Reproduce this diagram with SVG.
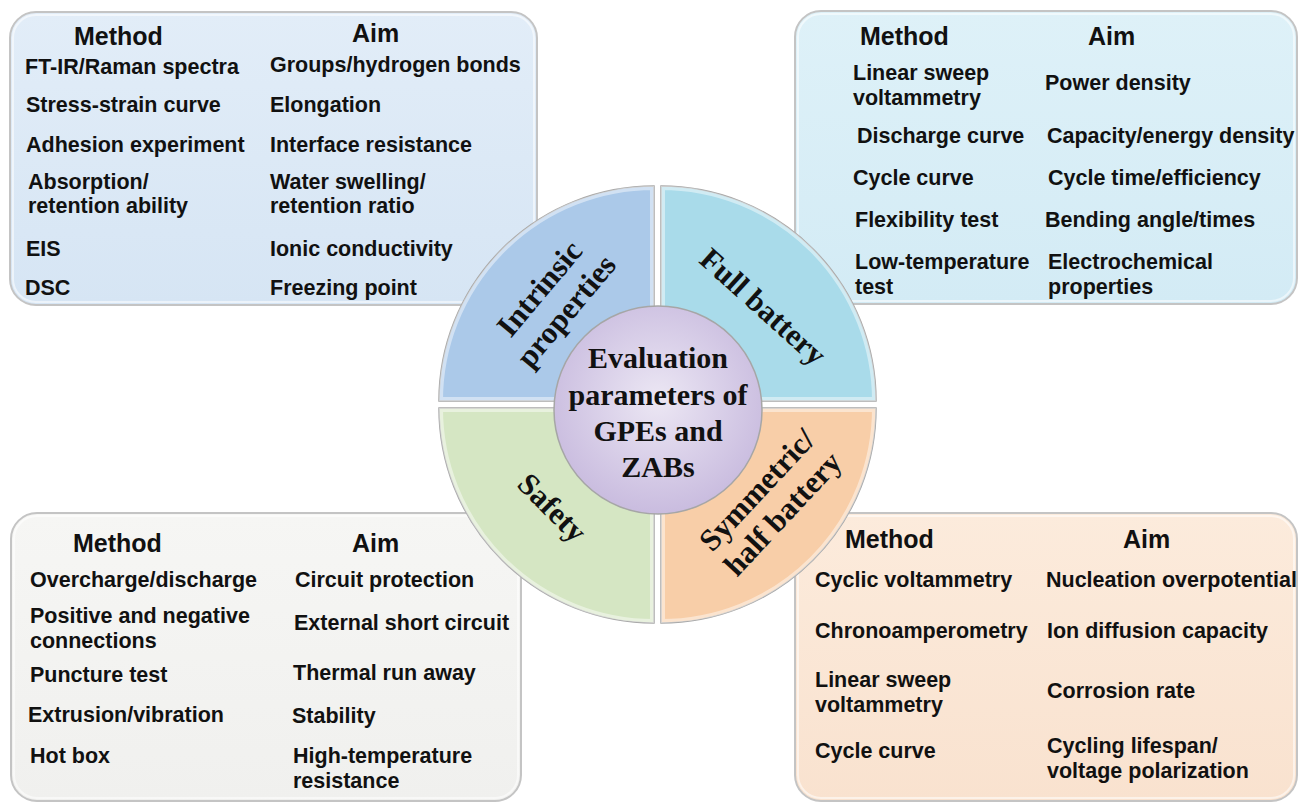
<svg xmlns="http://www.w3.org/2000/svg" width="1298" height="804" viewBox="0 0 1298 804">
<defs>
<linearGradient id="gBlue" x1="0" y1="0" x2="0" y2="1"><stop offset="0" stop-color="#e2edf8"/><stop offset="1" stop-color="#d6e5f4"/></linearGradient>
<linearGradient id="gCyan" x1="0" y1="0" x2="0" y2="1"><stop offset="0" stop-color="#def1f8"/><stop offset="1" stop-color="#d3ebf5"/></linearGradient>
<linearGradient id="gGray" x1="0" y1="0" x2="0" y2="1"><stop offset="0" stop-color="#f6f6f4"/><stop offset="1" stop-color="#f0f0ee"/></linearGradient>
<linearGradient id="gPeach" x1="0" y1="0" x2="0" y2="1"><stop offset="0" stop-color="#fcebdc"/><stop offset="1" stop-color="#f9e2cf"/></linearGradient>
<radialGradient id="gCenter" cx="0.5" cy="0.45" r="0.6"><stop offset="0" stop-color="#ece7f4"/><stop offset="1" stop-color="#c6b8dd"/></radialGradient>
<clipPath id="cUL"><path d="M654,401 L439,401 A215,215 0 0 1 654,186 Z"/></clipPath>
<clipPath id="cUR"><path d="M661,401 L661,186 A215,215 0 0 1 876,401 Z"/></clipPath>
<clipPath id="cLL"><path d="M654,408 L654,623 A215,215 0 0 1 439,408 Z"/></clipPath>
<clipPath id="cLR"><path d="M661,408 L876,408 A215,215 0 0 1 661,623 Z"/></clipPath>
</defs>
<style>
.box{stroke:#c4c4c4;stroke-width:2}
.hl{fill:none;stroke:#ffffff;stroke-opacity:0.55;stroke-width:2}
.t{font-family:"Liberation Sans",Arial,sans-serif;font-weight:bold;font-size:21.5px;fill:#111}
.h{font-family:"Liberation Sans",Arial,sans-serif;font-weight:bold;font-size:25px;fill:#111}
.q{stroke:#a8a8a8;stroke-width:1.5}
.bevel{fill:none;stroke:#ffffff;stroke-opacity:0.45;stroke-width:8}
.s{font-family:"Liberation Serif","Times New Roman",serif;font-weight:bold;font-size:31px;fill:#111;text-anchor:middle}
.c{font-family:"Liberation Serif","Times New Roman",serif;font-weight:bold;font-size:30px;fill:#111;text-anchor:middle}
</style>

<g id="box-intrinsic">
<rect class="box" x="10" y="12" width="527" height="293" rx="26" fill="url(#gBlue)"/>
<rect class="hl" x="13" y="15" width="521" height="287" rx="23"/>
<text class="h" x="74" y="45">Method</text>
<text class="h" x="352" y="42">Aim</text>
<text class="t" x="25" y="74">FT-IR/Raman spectra</text>
<text class="t" x="26" y="112">Stress-strain curve</text>
<text class="t" x="26" y="152">Adhesion experiment</text>
<text class="t" x="28" y="189">Absorption/</text>
<text class="t" x="28" y="213">retention ability</text>
<text class="t" x="26" y="256">EIS</text>
<text class="t" x="25" y="295">DSC</text>
<text class="t" x="270" y="72">Groups/hydrogen bonds</text>
<text class="t" x="270" y="112">Elongation</text>
<text class="t" x="270" y="152">Interface resistance</text>
<text class="t" x="270" y="189">Water swelling/</text>
<text class="t" x="270" y="213">retention ratio</text>
<text class="t" x="270" y="256">Ionic conductivity</text>
<text class="t" x="270" y="295">Freezing point</text>
</g>

<g id="box-full">
<rect class="box" x="795" y="11" width="502" height="293" rx="26" fill="url(#gCyan)"/>
<rect class="hl" x="798" y="14" width="496" height="287" rx="23"/>
<text class="h" x="860" y="45">Method</text>
<text class="h" x="1088" y="45">Aim</text>
<text class="t" x="853" y="80">Linear sweep</text>
<text class="t" x="853" y="105">voltammetry</text>
<text class="t" x="857" y="143">Discharge curve</text>
<text class="t" x="853" y="185">Cycle curve</text>
<text class="t" x="855" y="227">Flexibility test</text>
<text class="t" x="855" y="269">Low-temperature</text>
<text class="t" x="855" y="294">test</text>
<text class="t" x="1045" y="90">Power density</text>
<text class="t" x="1047" y="143">Capacity/energy density</text>
<text class="t" x="1048" y="185">Cycle time/efficiency</text>
<text class="t" x="1045" y="227">Bending angle/times</text>
<text class="t" x="1048" y="269">Electrochemical</text>
<text class="t" x="1048" y="294">properties</text>
</g>

<g id="box-safety">
<rect class="box" x="11" y="513" width="510" height="288" rx="26" fill="url(#gGray)"/>
<rect class="hl" x="14" y="516" width="504" height="282" rx="23"/>
<text class="h" x="73" y="552">Method</text>
<text class="h" x="352" y="552">Aim</text>
<text class="t" x="30" y="587">Overcharge/discharge</text>
<text class="t" x="30" y="623">Positive and negative</text>
<text class="t" x="30" y="648">connections</text>
<text class="t" x="30" y="682">Puncture test</text>
<text class="t" x="28" y="722">Extrusion/vibration</text>
<text class="t" x="30" y="763">Hot box</text>
<text class="t" x="295" y="587">Circuit protection</text>
<text class="t" x="294" y="630">External short circuit</text>
<text class="t" x="293" y="680">Thermal run away</text>
<text class="t" x="292" y="723">Stability</text>
<text class="t" x="293" y="763">High-temperature</text>
<text class="t" x="293" y="788">resistance</text>
</g>

<g id="box-symmetric">
<rect class="box" x="795" y="513" width="502" height="288" rx="26" fill="url(#gPeach)"/>
<rect class="hl" x="798" y="516" width="496" height="282" rx="23"/>
<text class="h" x="845" y="548">Method</text>
<text class="h" x="1123" y="548">Aim</text>
<text class="t" x="815" y="587">Cyclic voltammetry</text>
<text class="t" x="815" y="638">Chronoamperometry</text>
<text class="t" x="815" y="687">Linear sweep</text>
<text class="t" x="815" y="712">voltammetry</text>
<text class="t" x="815" y="758">Cycle curve</text>
<text class="t" x="1046" y="587">Nucleation overpotential</text>
<text class="t" x="1047" y="638">Ion diffusion capacity</text>
<text class="t" x="1047" y="698">Corrosion rate</text>
<text class="t" x="1047" y="753">Cycling lifespan/</text>
<text class="t" x="1047" y="778">voltage polarization</text>
</g>

<g id="q-intrinsic">
<path class="q" d="M654,401 L439,401 A215,215 0 0 1 654,186 Z" fill="#abc9e9"/>
<path class="bevel" clip-path="url(#cUL)" d="M654,401 L439,401 A215,215 0 0 1 654,186 Z"/>
<text class="s" transform="translate(553,300) rotate(-50)"><tspan x="0" y="-7.5">Intrinsic</tspan><tspan x="0" y="27.5">properties</tspan></text>
</g>
<g id="q-full">
<path class="q" d="M661,401 L661,186 A215,215 0 0 1 876,401 Z" fill="#a9dbea"/>
<path class="bevel" clip-path="url(#cUR)" d="M661,401 L661,186 A215,215 0 0 1 876,401 Z"/>
<text class="s" transform="translate(763,307) rotate(42)" x="0" y="10">Full battery</text>
</g>
<g id="q-safety">
<path class="q" d="M654,408 L654,623 A215,215 0 0 1 439,408 Z" fill="#d5e6c3"/>
<path class="bevel" clip-path="url(#cLL)" d="M654,408 L654,623 A215,215 0 0 1 439,408 Z"/>
<text class="s" transform="translate(552,508) rotate(45)" x="0" y="10">Safety</text>
</g>
<g id="q-symmetric">
<path class="q" d="M661,408 L876,408 A215,215 0 0 1 661,623 Z" fill="#f8cea8"/>
<path class="bevel" clip-path="url(#cLR)" d="M661,408 L876,408 A215,215 0 0 1 661,623 Z"/>
<text class="s" transform="translate(770,502) rotate(-47)"><tspan x="0" y="-7.5">Symmetric/</tspan><tspan x="0" y="27.5">half battery</tspan></text>
</g>

<g id="center">
<circle cx="658" cy="410" r="104" fill="url(#gCenter)" stroke="#a6a6a6" stroke-width="1.5"/>
<text class="c" x="658" y="368">Evaluation</text>
<text class="c" x="658" y="405">parameters of</text>
<text class="c" x="658" y="441">GPEs and</text>
<text class="c" x="658" y="477">ZABs</text>
</g>
<g id="connectors"/>
</svg>
